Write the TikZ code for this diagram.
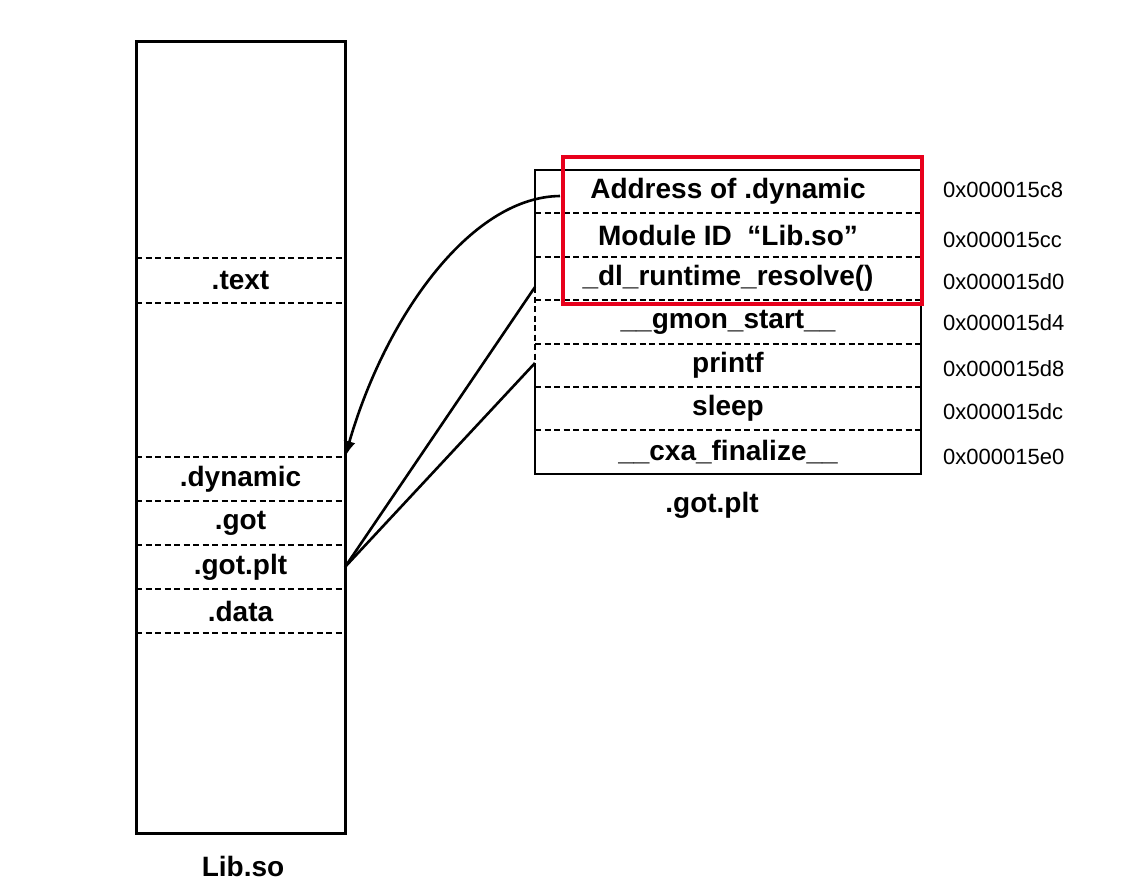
\documentclass[tikz,border=0pt]{standalone}
\usepackage{fontspec}
\setmainfont{Liberation Sans}
\usetikzlibrary{arrows.meta}
\definecolor{redbox}{RGB}{232,0,28}
\begin{document}
\begin{tikzpicture}[x=1pt,y=-1pt,
  lbl/.style={font=\fontsize{28}{28}\selectfont\bfseries},
  sec/.style={lbl, minimum width=209pt, minimum height=44pt, inner sep=0pt, outer sep=0pt},
  row/.style={lbl, minimum width=386pt, minimum height=43.43pt, inner sep=0pt, outer sep=0pt},
  addr/.style={font=\fontsize{22}{22}\selectfont, anchor=west, inner sep=0pt},
  frame/.style={line width=3pt},
  divider/.style={line width=2pt, dash pattern=on 6pt off 3.5pt},
  conn/.style={line width=2.6pt},
]
\useasboundingbox (0,0) rectangle (1142,892);

% ---------- Lib.so ----------
\node[minimum width=209pt, minimum height=792pt, inner sep=0pt, outer sep=0pt, draw, frame] (lib) at (240.5,437) {};
\node[sec, minimum height=45pt] (text) at (240.5,280.5) {.text};
\node[sec] (dyn) at (240.5,479) {.dynamic};
\node[sec] (got) at (240.5,523) {.got};
\node[sec] (gotplt) at (240.5,567) {.got.plt};
\node[sec] (data) at (240.5,611) {.data};
\node[lbl] (libname) at (243,866) {Lib.so};

\foreach \n in {text,dyn,got,gotplt,data}
  \draw[divider] (\n.north west) -- (\n.north east);
\draw[divider] (text.south west) -- (text.south east);
\draw[divider] (data.south west) -- (data.south east);

% ---------- .got.plt ----------
\node[row] (r1) at (728,191.7) {Address of .dynamic};
\node[row] (r2) at (728,235.1) {Module ID~~“Lib.so”};
\node[row] (r3) at (728,278.5) {\_dl\_runtime\_resolve()};
\node[row] (r4) at (728,321.9) {\_\_gmon\_start\_\_};
\node[row] (r5) at (728,365.3) {printf};
\node[row] (r6) at (728,408.7) {sleep};
\node[row] (r7) at (728,452.1) {\_\_cxa\_finalize\_\_};
\node[lbl] (gptitle) at (712,505) {.got.plt};

\foreach \n in {r2,r3,r4,r5,r6,r7}
  \draw[divider] (\n.north west) -- (\n.north east);

\coordinate (p1) at (535,287);
\coordinate (p2) at (535,363);
\draw[frame, line width=2.6pt] (p1) -- (r1.north west) -- (r1.north east) -- (r7.south east) -- (r7.south west) -- (p2);
\draw[divider] (p1) -- (p2);

\node[addr] (a1) at (943,190) {0x000015c8};
\node[addr] (a2) at (943,240) {0x000015cc};
\node[addr] (a3) at (943,282) {0x000015d0};
\node[addr] (a4) at (943,323) {0x000015d4};
\node[addr] (a5) at (943,369) {0x000015d8};
\node[addr] (a6) at (943,412) {0x000015dc};
\node[addr] (a7) at (943,457) {0x000015e0};

% ---------- connectors ----------
\coordinate (cs) at (560,196);
\draw[conn, -{Latex[length=16pt,width=12pt]}] (cs) .. controls (470,197) and (385,318) .. (dyn.north east);
\draw[conn] (gotplt.east) -- (p1);
\draw[conn] (gotplt.east) -- (p2);

% ---------- highlight ----------
\draw[redbox, line width=4pt] (563,157) rectangle (922,304);
\end{tikzpicture}
\end{document}
